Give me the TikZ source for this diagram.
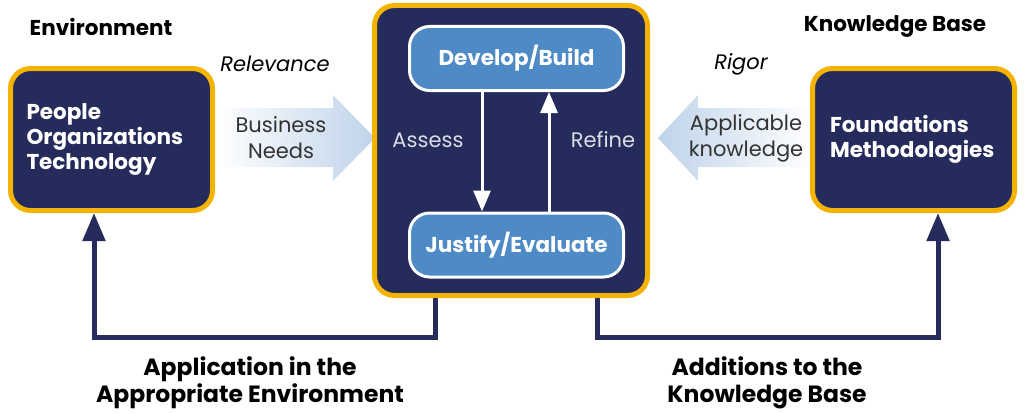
\documentclass[tikz,border=0pt]{standalone}
\usepackage{fontspec}
\setmainfont{Poppins}
\usetikzlibrary{arrows.meta,positioning}
\definecolor{navy}{HTML}{252B5A}
\definecolor{gold}{HTML}{F5B301}
\definecolor{steel}{HTML}{4E8AC5}
\definecolor{haze}{HTML}{BFD3EA}
\definecolor{ink}{HTML}{333333}
\definecolor{mist}{HTML}{DADCE6}

\begin{document}
\begin{tikzpicture}[x=1pt,y=-1pt,
 bf/.style={font=\bfseries\fontsize{21.5}{25}\selectfont},
 rm/.style={font=\fontsize{21}{26}\selectfont},
 it/.style={font=\itshape\fontsize{21}{26}\selectfont},
 big/.style={font=\bfseries\fontsize{23.5}{27}\selectfont,align=center},
 box/.style={bf,draw=gold,line width=5pt,fill=navy,rounded corners=20pt,text=white},
 side/.style={box,minimum width=202pt,minimum height=142pt,align=left,inner sep=0pt},
 act/.style={bf,draw=white,line width=3pt,fill=steel,rounded corners=20pt,
  minimum width=214pt,minimum height=64pt,text=white},
 loop/.style={draw=white,line width=3pt,-{Triangle[length=21pt,width=17pt]}},
 link/.style={draw=navy,line width=5pt,-{Triangle[length=28pt,width=22pt]}},
 ]
 \useasboundingbox (0,0) rectangle (1024,412);

 % chevrons
 \shade[left color=white,right color=haze]
  (215,108) -- (333,108) -- (333,95) -- (375,138) -- (333,181) -- (333,167) -- (215,167) -- cycle;
 \shade[left color=haze,right color=white]
  (658,138) -- (698,95) -- (698,108) -- (812,108) -- (812,167) -- (698,167) -- (698,181) -- cycle;

 % boxes
 \node[side,text width=170pt] (env) at (111.5,139.5) {People\\Organizations\\Technology};
 \node[side,text width=167pt] (kb) at (913.5,139.5) {Foundations\\Methodologies};
 \node[box,minimum width=273pt,minimum height=290pt] (dsr) at (511,150.5) {};
 \node[act] (build) at (516.5,58.5) {Develop/Build};
 \node[act] (eval) at (516.5,245) {Justify/Evaluate};

 % labels
 \node[bf] (envtitle) at (101,27) {Environment};
 \node[bf] (kbtitle) at (895,27) {Knowledge Base};
 \node[it] (relevance) at (275,64) {Relevance};
 \node[it] (rigor) at (741,64) {Rigor};
 \node[rm,text=ink,align=center] (needs) at (281,138) {Business\\Needs};
 \node[rm,text=ink,align=center] (know) at (746,138) {Applicable\\knowledge};
 \node[rm,text=mist] (assess) at (428,140) {Assess};
 \node[rm,text=mist] (refine) at (603,140) {Refine};
 \node[big] (apply) at (250,383) {Application in the\\Appropriate Environment};
 \node[big] (add) at (767,383) {Additions to the\\Knowledge Base};

 % connectors
 \draw[loop] ([xshift=-34.5pt]build.south) -- ([xshift=-34.5pt]eval.north);
 \draw[loop] ([xshift=32.5pt]eval.north) -- ([xshift=32.5pt]build.south);
 \draw[link] ([xshift=-76pt]dsr.south) -- ++(0,39) -| ([xshift=-17.5pt]env.south);
 \draw[link] ([xshift=86pt]dsr.south) -- ++(0,39) -| ([xshift=24.5pt]kb.south);
\end{tikzpicture}
\end{document}
